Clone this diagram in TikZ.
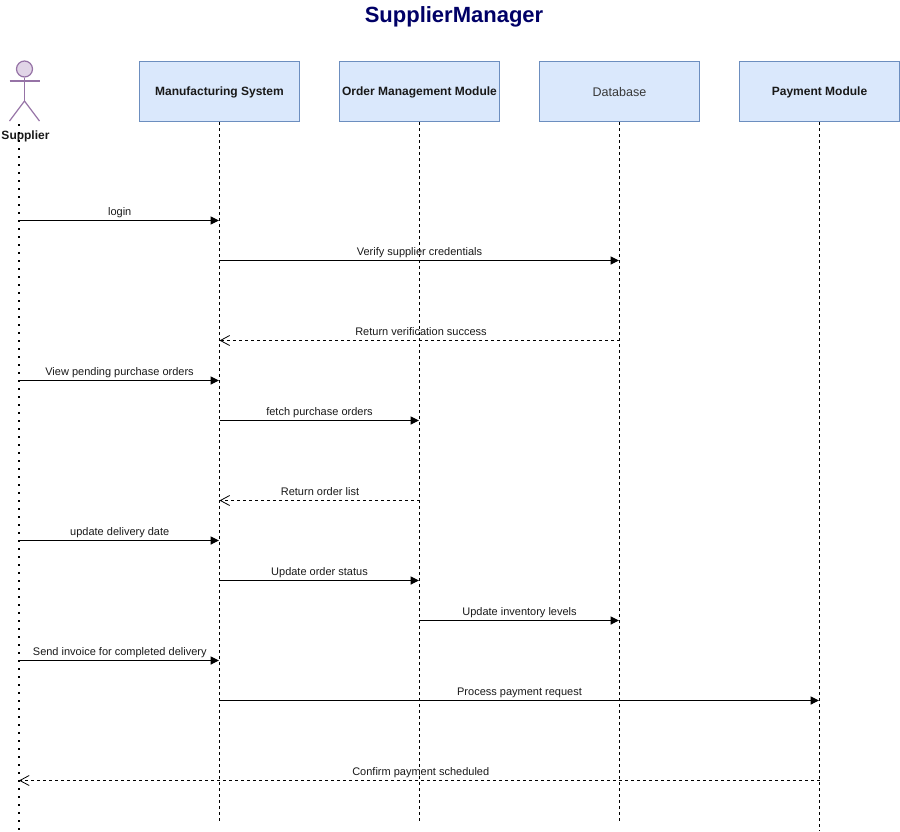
\documentclass[tikz,border=0pt]{standalone}
\usepackage{fontspec}
\setmainfont{Liberation Sans}
\usetikzlibrary{arrows.meta,calc}
\definecolor{boxfill}{HTML}{DAE8FC}
\definecolor{boxline}{HTML}{6C8EBF}
\definecolor{actfill}{HTML}{E1D5E7}
\definecolor{actline}{HTML}{9673A6}
\definecolor{titlecol}{HTML}{000066}
\tikzset{
  x=0.75pt,y=-0.75pt,
  lifebox/.style={draw=boxline,fill=boxfill,line width=0.9pt,minimum width=120pt,minimum height=45pt,inner sep=0pt,font=\fontsize{9}{11}\selectfont\bfseries,text=black!90,text depth=0pt,yshift=-0.75pt},
  lifeline/.style={line width=0.75pt,dash pattern=on 2.25pt off 2.25pt},
  actorline/.style={line width=1.7pt,dash pattern=on 1.6pt off 4.4pt},
  stick/.style={draw=actline,line width=0.9pt},
  call/.style={line width=0.8pt,shorten >=0.4pt,-{Triangle[length=6.2pt,width=6pt]}},
  reply/.style={line width=0.8pt,dash pattern=on 2.25pt off 2.25pt,-{Straight Barb[length=7pt,width=7.5pt,line width=0.6pt]}},
  msglabel/.style={font=\fontsize{8.25}{10}\selectfont,text=black!90,inner sep=0pt,anchor=base},
}
\newcommand{\msgline}[7]{%
  \coordinate (#2s) at (#3 |- 0,#5);
  \coordinate (#2e) at (#4 |- 0,#5);
  \draw[#1] (#2s) -- (#2e);
  \node[msglabel] (#2t) at ($(#2s)!0.5!(#2e)+(#7,-5)$) {#6};
}
\begin{document}
\begin{tikzpicture}
\useasboundingbox (0,0) rectangle (900,832);
\node[font=\fontsize{16.5}{20}\selectfont\bfseries,text=titlecol,inner sep=0pt] (title) at (454,17) {SupplierManager};
% actor
\node[circle,draw=actline,fill=actfill,line width=0.9pt,minimum size=12pt,inner sep=0pt] (head) at (24.5,69) {};
\coordinate (hip) at (24.5,101);
\coordinate (larm) at (9.5,81);
\coordinate (rarm) at (39.5,81);
\coordinate (lfoot) at (9.5,121);
\coordinate (rfoot) at (39.5,121);
\draw[stick] (head.south) -- (hip);
\draw[stick] (larm) -- (rarm);
\draw[stick] (lfoot) -- (hip) -- (rfoot);
\node[font=\fontsize{9}{11}\selectfont\bfseries,text=black!90,inner sep=0pt] (suplabel) at (25.5,136) {Supplier};
\coordinate (sup) at (19,124);
\coordinate (supend) at (19,832);
\draw[actorline] (sup) -- (supend);
% lifelines
\node[lifebox] (ms) at (219.5,90.5) {Manufacturing System};
\node[lifebox] (om) at (419.5,90.5) {Order Management Module};
\node[lifebox,font=\fontsize{9.4}{11}\selectfont,text=black!78] (db) at (619.5,90.5) {Database};
\node[lifebox] (pm) at (819.5,90.5) {Payment Module};
\coordinate (msend) at (219.5,821);
\coordinate (omend) at (419.5,821);
\coordinate (dbend) at (619.5,821);
\coordinate (pmend) at (819.5,831);
\draw[lifeline] (ms.south) -- (msend);
\draw[lifeline] (om.south) -- (omend);
\draw[lifeline] (db.south) -- (dbend);
\draw[lifeline] (pm.south) -- (pmend);
% messages
\msgline{call}{a}{sup}{ms}{220.5}{login}{0.5}
\msgline{call}{b}{ms}{db}{260.5}{Verify supplier credentials}{0}
\msgline{reply}{c}{db}{ms}{340.5}{Return verification success}{1.5}
\msgline{call}{d}{sup}{ms}{380.5}{View pending purchase orders}{0.3}
\msgline{call}{f}{ms}{om}{420.5}{fetch purchase orders}{0}
\msgline{reply}{g}{om}{ms}{500.5}{Return order list}{0.5}
\msgline{call}{h}{sup}{ms}{540.5}{update delivery date}{0.5}
\msgline{call}{i}{ms}{om}{580.5}{Update order status}{0}
\msgline{call}{j}{om}{db}{620.5}{Update inventory levels}{0}
\msgline{call}{k}{sup}{ms}{660.5}{Send invoice for completed delivery}{0.5}
\msgline{call}{l}{ms}{pm}{700.5}{Process payment request}{0}
\msgline{reply}{m}{pm}{sup}{780.5}{Confirm payment scheduled}{1.5}
\end{tikzpicture}
\end{document}
